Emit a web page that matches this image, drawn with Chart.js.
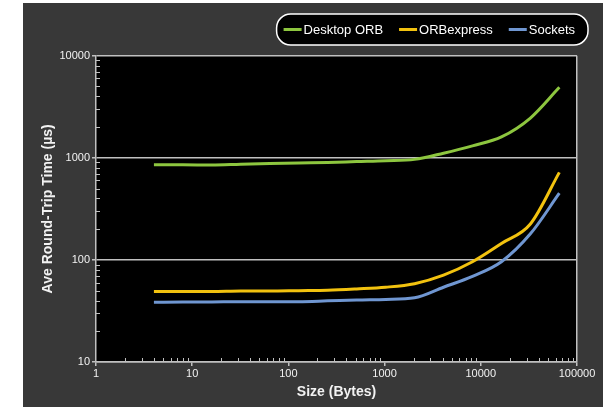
<!DOCTYPE html>
<html>
<head>
<meta charset="utf-8">
<script src="https://cdn.jsdelivr.net/npm/chart.js@4.4.1/dist/chart.umd.min.js"></script>
<style>
  html, body { margin: 0; padding: 0; background: #ffffff; }
  #wrap { position: absolute; left: 23px; top: 3px; width: 580px; height: 404px; background: #383838; }
  canvas { display: block; }
</style>
</head>
<body>
<div id="wrap"><canvas id="chart" width="580" height="404"></canvas></div>
<script>
// Message sizes (bytes) on the x axis
const sizes = [4, 8, 16, 32, 64, 128, 256, 512, 1024, 2048, 4096, 8192, 16384, 32768, 65536];

// Average round-trip times (µs) per transport
const desktopOrb = [855, 855, 850, 865, 878, 890, 900, 918, 935, 965, 1110, 1310, 1600, 2450, 4900];
const orbExpress = [49, 49, 49, 49.5, 49.5, 50, 50.5, 52, 54, 58.5, 71, 96, 145, 225, 720];
const sockets    = [38.5, 38.7, 38.8, 39, 39, 39, 39.7, 40.5, 41, 42.5, 54, 69, 96, 180, 450];

const seriesNames  = ['Desktop ORB', 'ORBexpress', 'Sockets'];
const seriesColors = ['#8dc63f', '#f2c20f', '#6f96d1'];

// Labelled decade ticks
const xMajorTicks = [1, 10, 100, 1000, 10000, 100000];
const yMajorTicks = [10, 100, 1000, 10000];

const FONT = '"Liberation Sans", Arial, Helvetica, sans-serif';
const GRID = '#c0c0c0';
const TEXT = '#f2f2f2';

// Decade ticks plus the 2..9 minor steps between them
function withMinors(majors) {
  const out = [];
  majors.forEach((m, i) => {
    out.push(m);
    if (i < majors.length - 1) {
      for (let k = 2; k <= 9; k++) out.push(m * k);
    }
  });
  return out;
}
const isMajor = (majors, v) => majors.some(m => Math.abs(m - v) < 1e-9);

const points = vals => sizes.map((s, i) => ({ x: s, y: vals[i] }));

// Black plot area
const plotBackground = {
  id: 'plotBackground',
  beforeDraw(chart) {
    const { ctx, chartArea: a } = chart;
    ctx.save();
    ctx.fillStyle = '#000000';
    ctx.fillRect(a.left, a.top, a.right - a.left, a.bottom - a.top);
    ctx.restore();
  }
};

// Short inward marks for the minor log steps
const minorTicks = {
  id: 'minorTicks',
  afterDraw(chart) {
    const { ctx, chartArea: a, scales } = chart;
    ctx.save();
    ctx.strokeStyle = GRID;
    ctx.lineWidth = 1;
    scales.y.ticks.forEach(t => {
      if (isMajor(yMajorTicks, t.value)) return;
      const y = Math.round(scales.y.getPixelForValue(t.value)) + 0.5;
      ctx.beginPath(); ctx.moveTo(a.left, y); ctx.lineTo(a.left + 4, y); ctx.stroke();
    });
    scales.x.ticks.forEach(t => {
      if (isMajor(xMajorTicks, t.value)) return;
      const x = Math.round(scales.x.getPixelForValue(t.value)) + 0.5;
      ctx.beginPath(); ctx.moveTo(x, a.bottom); ctx.lineTo(x, a.bottom - 4); ctx.stroke();
    });
    ctx.restore();
  }
};

// Pill-shaped legend in the top-right corner
const pillLegend = {
  id: 'pillLegend',
  afterDraw(chart) {
    const ctx = chart.ctx;
    const ds = chart.data.datasets;
    ctx.save();
    ctx.font = '13px ' + FONT;
    ctx.textBaseline = 'middle';
    const lineLen = 18, textGap = 2, itemGap = 16;
    const widths = ds.map(d => ctx.measureText(d.label).width);
    const total = widths.reduce((s, w) => s + w, 0) + ds.length * (lineLen + textGap) + (ds.length - 1) * itemGap;
    const boxRight = chart.width - 15;
    const boxTop = 11, boxH = 31;
    const padL = 7, padR = 13;
    const boxLeft = boxRight - total - padL - padR;
    const r = 14;
    ctx.beginPath();
    ctx.roundRect(boxLeft, boxTop, boxRight - boxLeft, boxH, r);
    ctx.fillStyle = '#000000';
    ctx.fill();
    ctx.lineWidth = 1.5;
    ctx.strokeStyle = '#ffffff';
    ctx.stroke();
    const cy = boxTop + boxH / 2;
    let x = boxLeft + padL;
    ds.forEach((d, i) => {
      ctx.beginPath();
      ctx.strokeStyle = d.borderColor;
      ctx.lineWidth = 3;
      ctx.moveTo(x, cy); ctx.lineTo(x + lineLen, cy);
      ctx.stroke();
      ctx.fillStyle = '#ffffff';
      ctx.fillText(d.label, x + lineLen + textGap, cy + 0.5);
      x += lineLen + textGap + widths[i] + itemGap;
    });
    ctx.restore();
  }
};

const seriesValues = [desktopOrb, orbExpress, sockets];

new Chart(document.getElementById('chart'), {
  type: 'line',
  data: {
    datasets: seriesValues.map((vals, i) => ({
      label: seriesNames[i],
      data: points(vals),
      borderColor: seriesColors[i],
      backgroundColor: seriesColors[i],
      borderWidth: 3,
      pointRadius: 0,
      cubicInterpolationMode: 'monotone',
      fill: false
    }))
  },
  options: {
    responsive: false,
    animation: false,
    devicePixelRatio: 1,
    layout: { padding: { top: 52.7, right: 26, bottom: 0, left: 0 } },
    plugins: {
      legend: { display: false },
      tooltip: { enabled: false }
    },
    scales: {
      x: {
        type: 'logarithmic',
        position: 'bottom',
        min: 1,
        max: 100000,
        afterBuildTicks: s => { s.ticks = withMinors(xMajorTicks).map(v => ({ value: v, major: isMajor(xMajorTicks, v) })); },
        afterFit: s => { s.height = 45; },
        border: { color: GRID, width: 1.5 },
        grid: {
          color: c => (c.tick && c.tick.value === 100000) ? GRID : 'rgba(0,0,0,0)',
          tickColor: c => (c.tick && isMajor(xMajorTicks, c.tick.value)) ? GRID : 'rgba(0,0,0,0)',
          lineWidth: 1.5,
          tickLength: 4,
          drawOnChartArea: true
        },
        ticks: {
          autoSkip: false,
          maxRotation: 0,
          padding: 1,
          color: TEXT,
          font: { family: FONT, size: 11 },
          callback: v => isMajor(xMajorTicks, v) ? String(v) : ''
        },
        title: {
          display: true,
          text: 'Size (Bytes)',
          color: TEXT,
          font: { family: FONT, size: 14, weight: 'bold' },
          padding: { top: 2, bottom: 6 }
        }
      },
      y: {
        type: 'logarithmic',
        min: 10,
        max: 10000,
        afterBuildTicks: s => { s.ticks = withMinors(yMajorTicks).map(v => ({ value: v, major: isMajor(yMajorTicks, v) })); },
        afterFit: s => { s.width = 73; },
        border: { color: GRID, width: 1.5 },
        grid: {
          color: c => (c.tick && isMajor(yMajorTicks, c.tick.value)) ? GRID : 'rgba(0,0,0,0)',
          tickColor: c => (c.tick && isMajor(yMajorTicks, c.tick.value)) ? GRID : 'rgba(0,0,0,0)',
          lineWidth: 1.5,
          tickLength: 4
        },
        ticks: {
          autoSkip: false,
          padding: 2,
          color: TEXT,
          font: { family: FONT, size: 11 },
          callback: v => isMajor(yMajorTicks, v) ? String(v) : ''
        },
        title: {
          display: true,
          text: 'Ave Round-Trip Time (µs)',
          color: TEXT,
          font: { family: FONT, size: 14, weight: 'bold' },
          padding: { top: 17, bottom: 4 }
        }
      }
    }
  },
  plugins: [plotBackground, minorTicks, pillLegend]
});
</script>
</body>
</html>
